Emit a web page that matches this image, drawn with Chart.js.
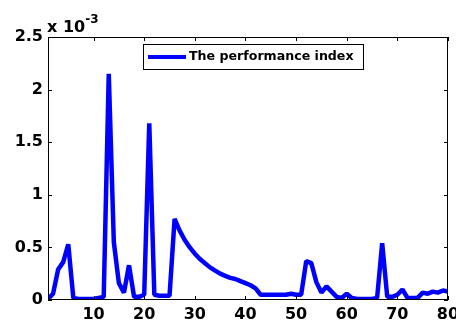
<!DOCTYPE html>
<html>
<head>
<meta charset="utf-8">
<script src="https://cdn.jsdelivr.net/npm/chart.js@4/dist/chart.umd.min.js"></script>
<style>
    html, body { margin: 0; padding: 0; background: #fff; }
    #contenedor { width: 456px; height: 322px; }
</style>
</head>
<body>
<div id="contenedor"><canvas id="graficoIndice" width="456" height="322"></canvas></div>
<script>
// Valores en unidades de 10^-3
const indiceDesempeno = [
    0.01, 0.06, 0.29, 0.36, 0.53, 0.02, 0.01, 0.01, 0.01, 0.01,
    0.02, 0.03, 2.15, 0.55, 0.16, 0.07, 0.33, 0.03, 0.03, 0.05,
    1.68, 0.05, 0.04, 0.04, 0.04, 0.77, 0.66, 0.57, 0.50, 0.44,
    0.39, 0.35, 0.31, 0.28, 0.25, 0.23, 0.21, 0.20, 0.18, 0.16,
    0.14, 0.11, 0.05, 0.05, 0.05, 0.05, 0.05, 0.05, 0.06, 0.05,
    0.05, 0.37, 0.35, 0.17, 0.07, 0.13, 0.08, 0.03, 0.02, 0.06,
    0.02, 0.01, 0.01, 0.01, 0.01, 0.02, 0.54, 0.03, 0.03, 0.05,
    0.10, 0.02, 0.02, 0.02, 0.07, 0.06, 0.08, 0.07, 0.09, 0.08
];
const pasos = indiceDesempeno.map((v, i) => i + 1);
const ticksX = [10, 20, 30, 40, 50, 60, 70, 80];
const ticksY = [0, 0.5, 1, 1.5, 2, 2.5];
const etiquetaSerie = 'The performance index';
const textoEscala = 'x 10';
const exponente = '-3';

const AZUL = '#0000ff';
const FUENTE = 'DejaVu Sans';

// Caja, marcas interiores, leyenda y factor de escala al estilo MATLAB
const marcoMatlab = {
    id: 'marcoMatlab',
    afterDatasetsDraw(chart) {
        const { ctx, chartArea: a, scales: { x, y } } = chart;
        ctx.save();
        ctx.strokeStyle = '#000';
        ctx.lineWidth = 1;
        ctx.strokeRect(a.left + 0.5, a.top + 0.5, a.right - a.left - 1, a.bottom - a.top - 1);

        const largo = 4;
        ctx.beginPath();
        ticksX.forEach(v => {
            const px = Math.round(x.getPixelForValue(v)) + 0.5;
            ctx.moveTo(px, a.bottom); ctx.lineTo(px, a.bottom - largo);
            ctx.moveTo(px, a.top); ctx.lineTo(px, a.top + largo);
        });
        ticksY.forEach(v => {
            const py = Math.round(y.getPixelForValue(v)) + 0.5;
            ctx.moveTo(a.left, py); ctx.lineTo(a.left + largo, py);
            ctx.moveTo(a.right, py); ctx.lineTo(a.right - largo, py);
        });
        ctx.stroke();

        // Leyenda
        ctx.fillStyle = '#fff';
        ctx.fillRect(143, 44, 220, 25);
        ctx.strokeRect(143.5, 44.5, 220, 25);
        ctx.beginPath();
        ctx.strokeStyle = AZUL;
        ctx.lineWidth = 4;
        ctx.moveTo(148, 57); ctx.lineTo(186, 57);
        ctx.stroke();
        ctx.fillStyle = '#000';
        ctx.font = 'bold 12.6px "' + FUENTE + '"';
        ctx.textBaseline = 'middle';
        ctx.textAlign = 'left';
        ctx.fillText(etiquetaSerie, 189, 57);

        // Factor x 10^-3
        ctx.textBaseline = 'alphabetic';
        ctx.font = 'bold 16px "' + FUENTE + '"';
        ctx.fillText(textoEscala, 47, 32);
        const ancho = ctx.measureText(textoEscala).width;
        ctx.font = 'bold 12px "' + FUENTE + '"';
        ctx.fillText(exponente, 47 + ancho, 23);
        ctx.restore();
    }
};

const fuenteTicks = { family: FUENTE, weight: 'bold', size: 16 };

new Chart(document.getElementById('graficoIndice'), {
    type: 'line',
    data: {
        datasets: [{
            label: etiquetaSerie,
            data: pasos.map((p, i) => ({ x: p, y: indiceDesempeno[i] })),
            borderColor: AZUL,
            borderWidth: 4.5,
            borderJoinStyle: 'bevel',
            pointRadius: 0,
            tension: 0,
            fill: false
        }]
    },
    options: {
        responsive: false,
        animation: false,
        devicePixelRatio: 1,
        layout: { padding: { top: 37, right: 8, left: 0, bottom: 0 } },
        plugins: {
            legend: { display: false },
            tooltip: { enabled: false }
        },
        scales: {
            x: {
                type: 'linear',
                min: 1,
                max: 80,
                afterBuildTicks: s => { s.ticks = ticksX.map(v => ({ value: v })); },
                afterFit: s => { s.height = 22; s.paddingLeft = 0; s.paddingRight = 0; },
                grid: { display: false, drawTicks: false },
                border: { display: false },
                ticks: {
                    font: fuenteTicks,
                    color: '#000',
                    padding: 5,
                    maxRotation: 0,
                    autoSkip: false,
                    callback: v => String(v)
                }
            },
            y: {
                type: 'linear',
                min: 0,
                max: 2.5,
                afterBuildTicks: s => { s.ticks = ticksY.map(v => ({ value: v })); },
                afterFit: s => { s.width = 48; s.paddingTop = 0; s.paddingBottom = 0; },
                grid: { display: false, drawTicks: false },
                border: { display: false },
                ticks: {
                    font: fuenteTicks,
                    color: '#000',
                    padding: 5,
                    autoSkip: false,
                    callback: v => String(v)
                }
            }
        }
    },
    plugins: [marcoMatlab]
});
</script>
</body>
</html>
